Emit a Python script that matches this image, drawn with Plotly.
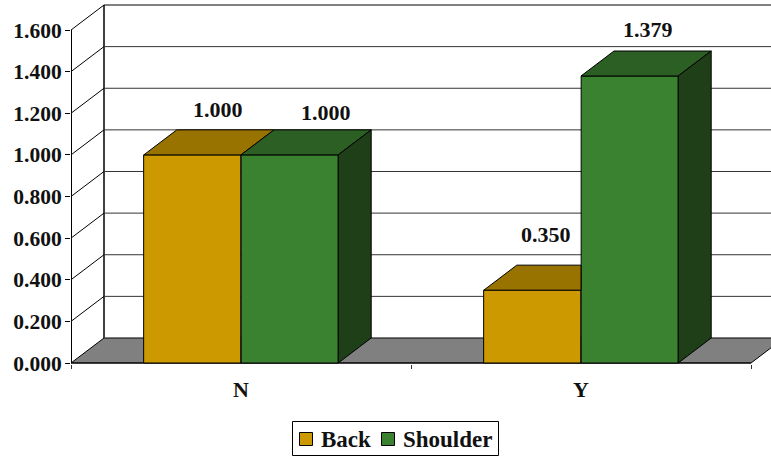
import plotly.graph_objects as go

categories = ["N", "Y"]
series_names = ["Back", "Shoulder"]
back_values = [1.000, 0.350]
shoulder_values = [1.000, 1.379]
y_ticks = [0.0, 0.2, 0.4, 0.6, 0.8, 1.0, 1.2, 1.4, 1.6]

# pixel scale and depth of the 3-D box
PX_X = 340.0
PX_Y = 208.0
DX = 33 / PX_X
DY = 25 / PX_Y
BAR_W = 97.2 / PX_X
FONT = "Liberation Serif"
INK = "#111111"
BACK_COLOR = "#CC9900"
SHOULDER_COLOR = "#3B8230"

# plot-area rectangle in pixels
PLOT_L, PLOT_T, PLOT_B = 71, 2, 364
PLOT_W = 771 - PLOT_L
PLOT_H = PLOT_B - PLOT_T

x_pos = list(range(len(categories)))
x0_axis, x1_axis = -0.5, len(categories) - 0.5
y_max = y_ticks[-1]

fig = go.Figure()
fig.add_bar(name=series_names[0], x=x_pos, y=back_values, width=BAR_W, showlegend=False,
            marker=dict(color=BACK_COLOR, line=dict(color="black", width=1)))
fig.add_bar(name=series_names[1], x=x_pos, y=shoulder_values, width=BAR_W, showlegend=False,
            marker=dict(color=SHOULDER_COLOR, line=dict(color="black", width=1)))


def face(xs, ys, color):
    fig.add_scatter(x=xs, y=ys, mode="lines", fill="toself", fillcolor=color,
                    line=dict(color="black", width=1), showlegend=False,
                    hoverinfo="skip")


for i in x_pos:
    b, s = back_values[i], shoulder_values[i]
    # back top (hidden behind the shoulder bar where that one is taller)
    right = i + DX if b >= s else i
    face([i - BAR_W, i, right, i - BAR_W + DX, i - BAR_W],
         [b, b, b + DY, b + DY, b], "#997300")
    # shoulder top and side
    face([i, i + BAR_W, i + BAR_W + DX, i + DX, i],
         [s, s, s + DY, s + DY, s], "#2C5F24")
    face([i + BAR_W, i + BAR_W + DX, i + BAR_W + DX, i + BAR_W, i + BAR_W],
         [0, DY, s + DY, s, 0], "#1F3F18")

# value labels, with hand offsets in pixels from the centre of each bar top
label_dx = [[26, 36], [14, 18]]
label_dy = [[45, 42], [56, 47]]
annotations = []
for i in x_pos:
    for j, (v, off) in enumerate(((back_values[i], -BAR_W / 2), (shoulder_values[i], BAR_W / 2))):
        annotations.append(dict(x=i + off, y=v, xref="x", yref="y", text=f"{v:.3f}",
                                showarrow=False, xshift=label_dx[i][j], yshift=label_dy[i][j],
                                font=dict(family=FONT, size=22, color=INK, weight="bold")))

x_right = x1_axis + DX + 1
shapes = [
    # floor
    dict(type="path", layer="below", xref="x", yref="y",
         path=f"M {x0_axis} 0 L {x0_axis + DX} {DY} L {x1_axis + DX} {DY} L {x1_axis} 0 Z",
         fillcolor="#808080", line=dict(color="black", width=1)),
    # back wall left edge
    dict(type="line", layer="below", xref="x", yref="y", x0=x0_axis + DX, x1=x0_axis + DX,
         y0=DY, y1=y_max + DY, line=dict(color="#404040", width=2)),
    # value axis line
    dict(type="line", layer="below", xref="x", yref="y", x0=x0_axis, x1=x0_axis,
         y0=0, y1=y_max, line=dict(color="black", width=2)),
    # category axis line
    dict(type="line", layer="below", xref="x", yref="y", x0=x0_axis, x1=x1_axis,
         y0=0, y1=0, line=dict(color="black", width=1)),
]
for t in y_ticks[1:]:
    top = t == y_max
    shapes.append(dict(type="line", layer="below", xref="x", yref="y", x0=x0_axis + DX, x1=x_right,
                       y0=t + DY, y1=t + DY,
                       line=dict(color="black" if top else "#333333", width=1)))
    shapes.append(dict(type="line", layer="below", xref="x", yref="y", x0=x0_axis, x1=x0_axis + DX,
                       y0=t, y1=t + DY, line=dict(color="black", width=1)))


# legend box, laid out in page pixels
def px(x):
    return (x - PLOT_L) / PLOT_W


def py(y):
    return (PLOT_B - y) / PLOT_H


def paper_rect(x0, y0, x1, y1, fill):
    return dict(type="rect", xref="paper", yref="paper", x0=px(x0), x1=px(x1), y0=py(y0), y1=py(y1),
                fillcolor=fill, line=dict(color="black", width=1))


shapes.append(paper_rect(292.5, 421.5, 498.5, 455.5, "white"))
for name, color, sw_x, text_x in ((series_names[0], BACK_COLOR, 299.5, 319),
                                  (series_names[1], SHOULDER_COLOR, 381.5, 400.5)):
    shapes.append(paper_rect(sw_x, 432.5, sw_x + 13, 445.5, color))
    annotations.append(dict(x=px(text_x), y=py(439), xref="paper", yref="paper", text=name,
                            xanchor="left", yanchor="middle", showarrow=False,
                            font=dict(family=FONT, size=23, color=INK, weight="bold")))

fig.update_layout(
    width=771, height=458, autosize=False,
    margin=dict(l=PLOT_L, r=0, t=PLOT_T, b=458 - PLOT_B, pad=0, autoexpand=False),
    paper_bgcolor="white", plot_bgcolor="white",
    barmode="group", bargap=0.4265, bargroupgap=0,
    shapes=shapes, annotations=annotations, showlegend=False,
    font=dict(family=FONT, color=INK),
    xaxis=dict(range=[x0_axis, x0_axis + PLOT_W / PX_X], tickmode="array", tickvals=x_pos,
               ticktext=categories, ticks="", showgrid=False, zeroline=False, showline=False,
               ticklabelstandoff=10,
               tickfont=dict(family=FONT, size=22, color=INK, weight="bold"),
               minor=dict(tickmode="array", tickvals=[x0_axis, (x0_axis + x1_axis) / 2, x1_axis],
                          ticks="outside", ticklen=4, tickcolor="#333333", tickwidth=1)),
    yaxis=dict(range=[-1 / PX_Y, y_max + DY + 3 / PX_Y], tickmode="array", tickvals=y_ticks,
               ticktext=[f"{t:.3f}" for t in y_ticks], ticks="outside", ticklen=5,
               ticklabelstandoff=-1,
               tickcolor="black", tickwidth=1, showgrid=False, zeroline=False, showline=False,
               tickfont=dict(family=FONT, size=21.5, color=INK, weight="bold")),
)

fig.write_html("out.html", config={"displayModeBar": False},
               post_script="document.body.style.margin='0';")
